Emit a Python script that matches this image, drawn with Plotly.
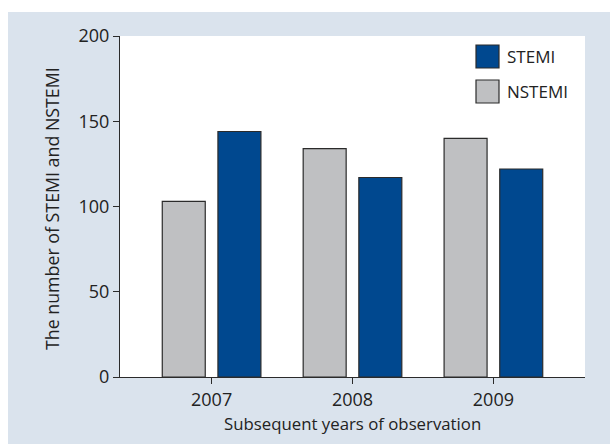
import plotly.graph_objects as go

years = ["2007", "2008", "2009"]
nstemi = [103, 134, 140]
stemi = [144, 117, 122]
y_ticks = [0, 50, 100, 150, 200]
x_title = "Subsequent years of observation"
y_title = "The number of STEMI and NSTEMI"
series_names = ["STEMI", "NSTEMI"]

BLUE = "#00488f"
GRAY = "#bfc0c2"
EDGE = "#2b2b2b"
PANEL = "#dae3ed"
FONT = "Open Sans"
TXT = "#222222"

fig = go.Figure()
fig.add_trace(go.Bar(x=years, y=nstemi, name=series_names[1], width=0.305, offset=-0.35,
                     marker=dict(color=GRAY, line=dict(color=EDGE, width=1.2)), showlegend=False))
fig.add_trace(go.Bar(x=years, y=stemi, name=series_names[0], width=0.305, offset=0.045,
                     marker=dict(color=BLUE, line=dict(color=EDGE, width=1.2)), showlegend=False))

W, H = 610, 444
L, R, T, B = 120, 25, 36, 67
pw, ph = W - L - R, H - T - B

def px(x):
    return (x - L) / pw

def py(y):
    return (H - B - y) / ph

shapes = [
    dict(type="rect", xref="paper", yref="paper", x0=px(8), x1=px(612), y0=py(446), y1=py(12),
         fillcolor=PANEL, line=dict(width=0), layer="below"),
    dict(type="rect", xref="paper", yref="paper", x0=0, x1=1, y0=0, y1=1,
         fillcolor="white", line=dict(width=0), layer="below"),
]
annotations = []
# manual legend with large swatches
for i, (name, col) in enumerate(zip(series_names, [BLUE, GRAY])):
    top = 45 + i * 35
    shapes.append(dict(type="rect", xref="paper", yref="paper", x0=px(476), x1=px(499),
                       y0=py(top + 23), y1=py(top), fillcolor=col, line=dict(color=EDGE, width=1.2)))
    annotations.append(dict(text=name, xref="paper", yref="paper", x=px(505), y=py(top + 11.5),
                            xanchor="left", yanchor="middle", showarrow=False,
                            font=dict(family=FONT, size=17, color=TXT)))
annotations.append(dict(text=x_title, xref="paper", yref="paper", x=px(352), y=py(424),
                        xanchor="center", yanchor="middle", showarrow=False,
                        font=dict(family=FONT, size=16.8, color=TXT)))
annotations.append(dict(text=y_title, xref="paper", yref="paper", x=px(52), y=py(209),
                        xanchor="center", yanchor="middle", showarrow=False, textangle=-90,
                        font=dict(family=FONT, size=17.8, color=TXT)))

fig.update_layout(
    width=W, height=H, margin=dict(l=L, r=R, t=T, b=B, pad=0),
    paper_bgcolor="white", plot_bgcolor="rgba(0,0,0,0)",
    barmode="group", shapes=shapes, annotations=annotations,
    font=dict(family=FONT, size=18, color=TXT),
)
fig.update_xaxes(type="category", range=[-0.65, 2.65], showline=True, linecolor=EDGE, linewidth=1.2,
                 ticks="outside", ticklen=6, tickcolor=EDGE, showgrid=False, zeroline=False,
                 tickfont=dict(family=FONT, size=18, color=TXT))
fig.update_yaxes(range=[0, 200], tickvals=y_ticks, showline=True, linecolor=EDGE, linewidth=1.2,
                 ticks="outside", ticklen=6, tickcolor=EDGE, showgrid=False, zeroline=False,
                 tickfont=dict(family=FONT, size=18, color=TXT))

fig.write_html("out.html")
